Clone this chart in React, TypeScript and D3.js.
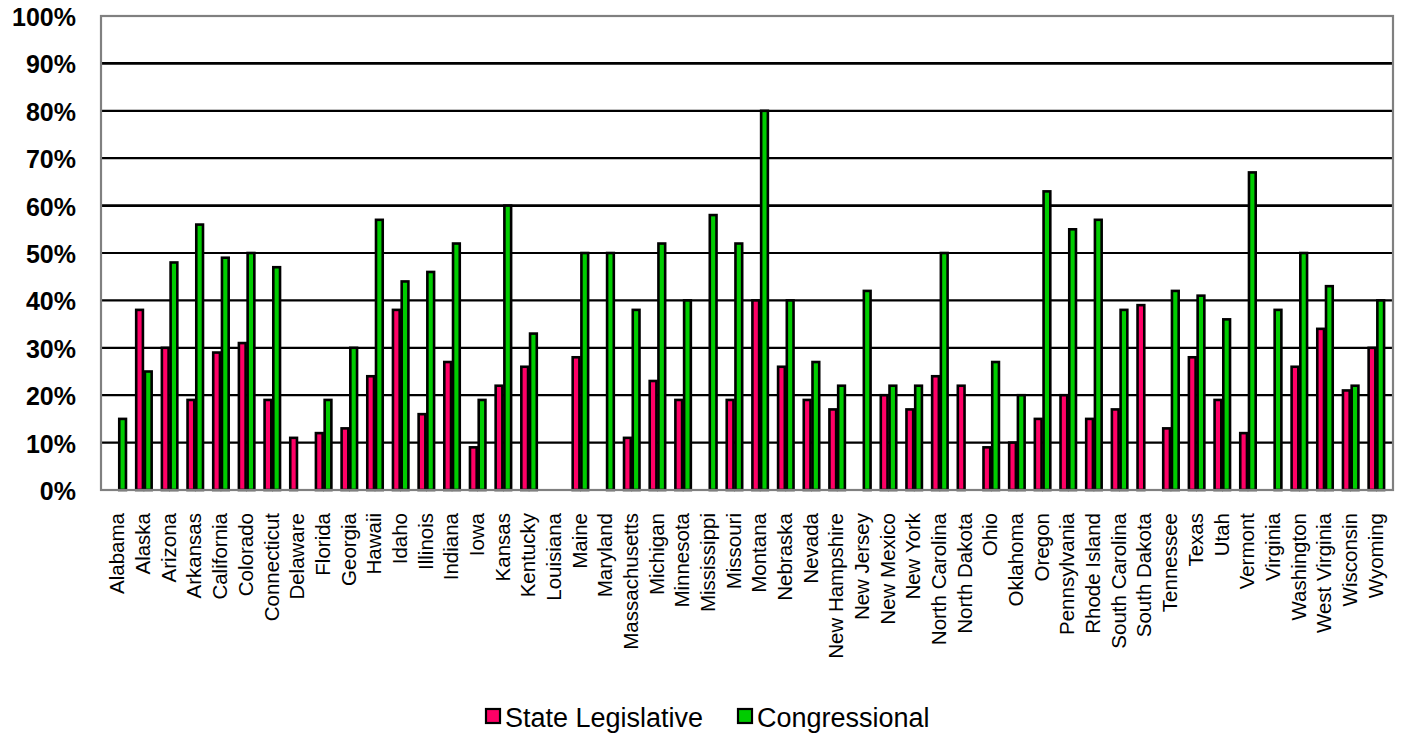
import React from "react";
import * as d3 from "d3";

const states = [
  "Alabama","Alaska","Arizona","Arkansas","California","Colorado","Connecticut","Delaware","Florida","Georgia",
  "Hawaii","Idaho","Illinois","Indiana","Iowa","Kansas","Kentucky","Louisiana","Maine","Maryland",
  "Massachusetts","Michigan","Minnesota","Mississippi","Missouri","Montana","Nebraska","Nevada","New Hampshire","New Jersey",
  "New Mexico","New York","North Carolina","North Dakota","Ohio","Oklahoma","Oregon","Pennsylvania","Rhode Island","South Carolina",
  "South Dakota","Tennessee","Texas","Utah","Vermont","Virginia","Washington","West Virginia","Wisconsin","Wyoming",
];

const stateLegislative = [
  0, 38, 30, 19, 29, 31, 19, 11, 12, 13,
  24, 38, 16, 27, 9, 22, 26, 0, 28, 0,
  11, 23, 19, 0, 19, 40, 26, 19, 17, 0,
  20, 17, 24, 22, 9, 10, 15, 20, 15, 17,
  39, 13, 28, 19, 12, 0, 26, 34, 21, 30,
];

const congressional = [
  15, 25, 48, 56, 49, 50, 47, 0, 19, 30,
  57, 44, 46, 52, 19, 60, 33, 0, 50, 50,
  38, 52, 40, 58, 52, 80, 40, 27, 22, 42,
  22, 22, 50, 0, 27, 20, 63, 55, 57, 38,
  0, 42, 41, 36, 67, 38, 50, 43, 22, 40,
];

const seriesNames = ["State Legislative", "Congressional"];
const seriesColors = ["#FF0066", "#00CC00"];
const yTicks = [0, 10, 20, 30, 40, 50, 60, 70, 80, 90, 100];

const W = 1407;
const H = 734;
const left = 101;
const right = 1393;
const top = 16;
const bottom = 490;
const font = "'Liberation Sans', Arial, Helvetica, sans-serif";

export default function App() {
  const y = d3.scaleLinear().domain([0, 100]).range([bottom, top]);
  const x0 = d3.scaleBand<string>().domain(states).range([left, right]).padding(0.32);
  const x1 = d3.scaleBand<string>().domain(seriesNames).range([0, x0.bandwidth()]);
  const seriesData = [stateLegislative, congressional];
  const sw = 2.6;

  return (
    <svg width={W} height={H} style={{ position: "absolute", left: 0, top: 0, background: "#fff" }}>
      <rect x={0} y={0} width={W} height={H} fill="#fff" />
      {/* gridlines */}
      {yTicks.filter((t) => t > 0 && t < 100).map((t) => (
        <line key={t} x1={left} x2={right} y1={y(t)} y2={y(t)} stroke="#000" strokeWidth={t === 60 || t === 90 ? 2.8 : 2.2} />
      ))}
      {/* bars */}
      {seriesData.map((vals, si) =>
        vals.map((v, i) =>
          v > 0 ? (
            <rect
              key={`${si}-${i}`}
              x={(x0(states[i]) as number) + (x1(seriesNames[si]) as number) + sw / 2}
              y={y(v)}
              width={x1.bandwidth() - sw + 0.6}
              height={y(0) - y(v)}
              fill={seriesColors[si]}
              stroke="#000"
              strokeWidth={sw}
            />
          ) : null
        )
      )}
      {/* frame */}
      <rect x={left} y={top} width={right - left} height={bottom - top} fill="none" stroke="#808080" strokeWidth={2.2} />
      {/* y labels */}
      {yTicks.map((t) => (
        <text key={t} x={76} y={y(t)} dy={10} textAnchor="end" fontFamily={font} fontWeight="bold" fontSize={25} fill="#000">
          {t}%
        </text>
      ))}
      {/* x labels */}
      {states.map((s) => {
        const cx = (x0(s) as number) + x0.bandwidth() / 2;
        return (
          <text
            key={s}
            transform={`translate(${cx + 6.5},${513}) rotate(-90)`}
            textAnchor="end"
            fontFamily={font}
            fontSize={20.5}
            fill="#000"
          >
            {s}
          </text>
        );
      })}
      {/* legend */}
      {seriesNames.map((n, i) => {
        const lx = [486, 738][i];
        return (
          <g key={n}>
            <rect x={lx} y={709} width={14} height={14} fill={seriesColors[i]} stroke="#000" strokeWidth={2.2} />
            <text x={lx + 19} y={727} fontFamily={font} fontSize={27} fill="#000">
              {n}
            </text>
          </g>
        );
      })}
    </svg>
  );
}
